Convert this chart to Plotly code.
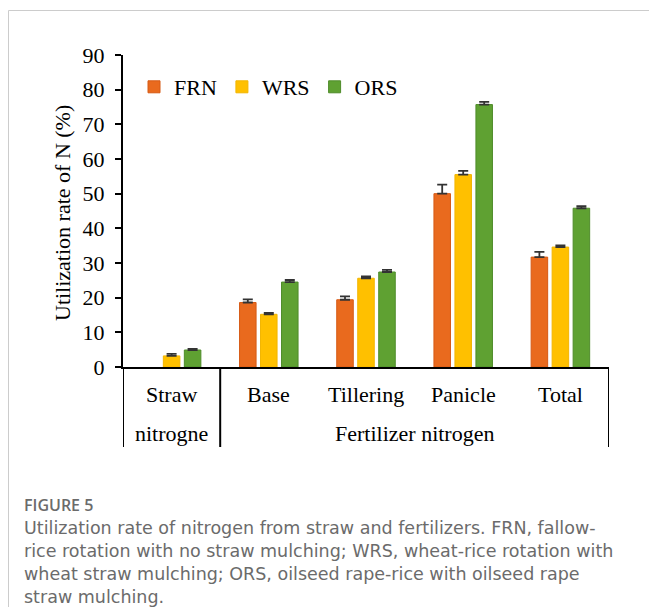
import plotly.graph_objects as go

# ---------------- data ----------------
categories = ["Straw", "Base", "Tillering", "Panicle", "Total"]
series_names = ["FRN", "WRS", "ORS"]
frn_values = [None, 18.6, 19.4, 50.0, 31.7]
wrs_values = [3.2, 15.2, 25.6, 55.5, 34.6]
ors_values = [4.9, 24.5, 27.4, 75.7, 45.8]
frn_err = [0, 0.9, 1.0, 2.6, 1.5]
wrs_err = [0.6, 0.4, 0.5, 1.1, 0.5]
ors_err = [0.3, 0.6, 0.6, 0.8, 0.6]
y_ticks = [0, 10, 20, 30, 40, 50, 60, 70, 80, 90]
group_labels = ["nitrogne", "Fertilizer nitrogen"]
y_title = "Utilization rate of N (%)"
fig_label = "FIGURE 5"
caption_lines = [
    "Utilization rate of nitrogen from straw and fertilizers. FRN, fallow-",
    "rice rotation with no straw mulching; WRS, wheat-rice rotation with",
    "wheat straw mulching; ORS, oilseed rape-rice with oilseed rape",
    "straw mulching.",
]

# ---------------- styling ----------------
W, H = 649, 607
L, R, T, B = 123, 40, 55, 240   # plot area: x 123..609, y 55..367
PW = W - L - R
PH = H - T - B

def px_x(px):
    return (px - L) / PW

def px_y(py):
    return (H - B - py) / PH

colors = ["#E96A1E", "#FFC000", "#5FA132"]
edges = ["#D65A15", "#F2B500", "#4F8C2A"]
serif = "Liberation Serif"
FS = 22

x_idx = list(range(len(categories)))
values = [frn_values, wrs_values, ors_values]
errs = [frn_err, wrs_err, ors_err]

fig = go.Figure()
for name, vals, err, c, ec in zip(series_names, values, errs, colors, edges):
    fig.add_trace(go.Bar(
        x=x_idx, y=vals, name=name,
        marker=dict(color=c, line=dict(color=ec, width=1)),
        error_y=dict(type="data", array=err, arrayminus=[0] * len(err),
                     symmetric=False, color="#333333", thickness=1.8, width=5),
    ))

fig.update_layout(
    width=W, height=H,
    margin=dict(l=L, r=R, t=T, b=B),
    paper_bgcolor="white", plot_bgcolor="white",
    barmode="group", bargap=0.352, bargroupgap=0.213,
    font=dict(family=serif, size=FS, color="black"),
    showlegend=True,
    legend=dict(orientation="h", x=px_x(134), y=px_y(87), xanchor="left", yanchor="middle",
                font=dict(family=serif, size=FS, color="black"),
                itemwidth=30, tracegroupgap=0, bgcolor="rgba(0,0,0,0)"),
)

fig.update_xaxes(range=[-0.5, len(categories) - 0.5], showticklabels=False, ticks="",
                 showline=True, linecolor="black", linewidth=2, showgrid=False,
                 zeroline=False, fixedrange=True)
fig.update_yaxes(range=[0, 90], tickvals=y_ticks, ticks="outside", ticklen=6, tickwidth=2,
                 tickcolor="black", showline=True, linecolor="black", linewidth=2,
                 showgrid=False, zeroline=False, ticklabelstandoff=6,
                 tickfont=dict(family=serif, size=FS, color="black"))

shapes = []
table_bottom = px_y(447)
for xv in [-0.5, 0.5, len(categories) - 0.5]:
    shapes.append(dict(type="line", xref="x", yref="paper", x0=xv, x1=xv, y0=0, y1=table_bottom,
                       line=dict(color="black", width=2)))
shapes.append(dict(type="line", xref="paper", yref="paper", x0=px_x(8.5), x1=px_x(8.5),
                   y0=px_y(10.5), y1=px_y(607), line=dict(color="#CCCCCC", width=1)))
shapes.append(dict(type="line", xref="paper", yref="paper", x0=px_x(8.5), x1=px_x(649),
                   y0=px_y(10.5), y1=px_y(10.5), line=dict(color="#CCCCCC", width=1)))
fig.update_layout(shapes=shapes)

ann = []
for i, c in enumerate(categories):
    ann.append(dict(x=i, y=px_y(394), xref="x", yref="paper", text=c, showarrow=False,
                    xanchor="center", yanchor="middle",
                    font=dict(family=serif, size=FS, color="black")))
ann.append(dict(x=0, y=px_y(433), xref="x", yref="paper", text=group_labels[0], showarrow=False,
                xanchor="center", yanchor="middle", font=dict(family=serif, size=FS, color="black")))
ann.append(dict(x=2.5, y=px_y(433), xref="x", yref="paper", text=group_labels[1], showarrow=False,
                xanchor="center", yanchor="middle", font=dict(family=serif, size=FS, color="black")))
ann.append(dict(x=px_x(62), y=px_y(213), xref="paper", yref="paper", text=y_title, showarrow=False,
                textangle=-90, xanchor="center", yanchor="middle",
                font=dict(family=serif, size=FS, color="black")))
ann.append(dict(x=px_x(22), y=px_y(505), xref="paper", yref="paper", text=fig_label, showarrow=False,
                xanchor="left", yanchor="middle",
                font=dict(family="Open Sans", size=16, color="#6b6b6b", weight=600)))
for k, line in enumerate(caption_lines):
    ann.append(dict(x=px_x(22), y=px_y(527.5 + 23.3 * k), xref="paper", yref="paper", text=line,
                    showarrow=False, xanchor="left", yanchor="middle",
                    font=dict(family="DejaVu Sans", size=17.5, color="#6b6b6b")))
fig.update_layout(annotations=ann)

fig.write_html("out.html", config={"displayModeBar": False},
               post_script="document.body.style.margin='0px';")
